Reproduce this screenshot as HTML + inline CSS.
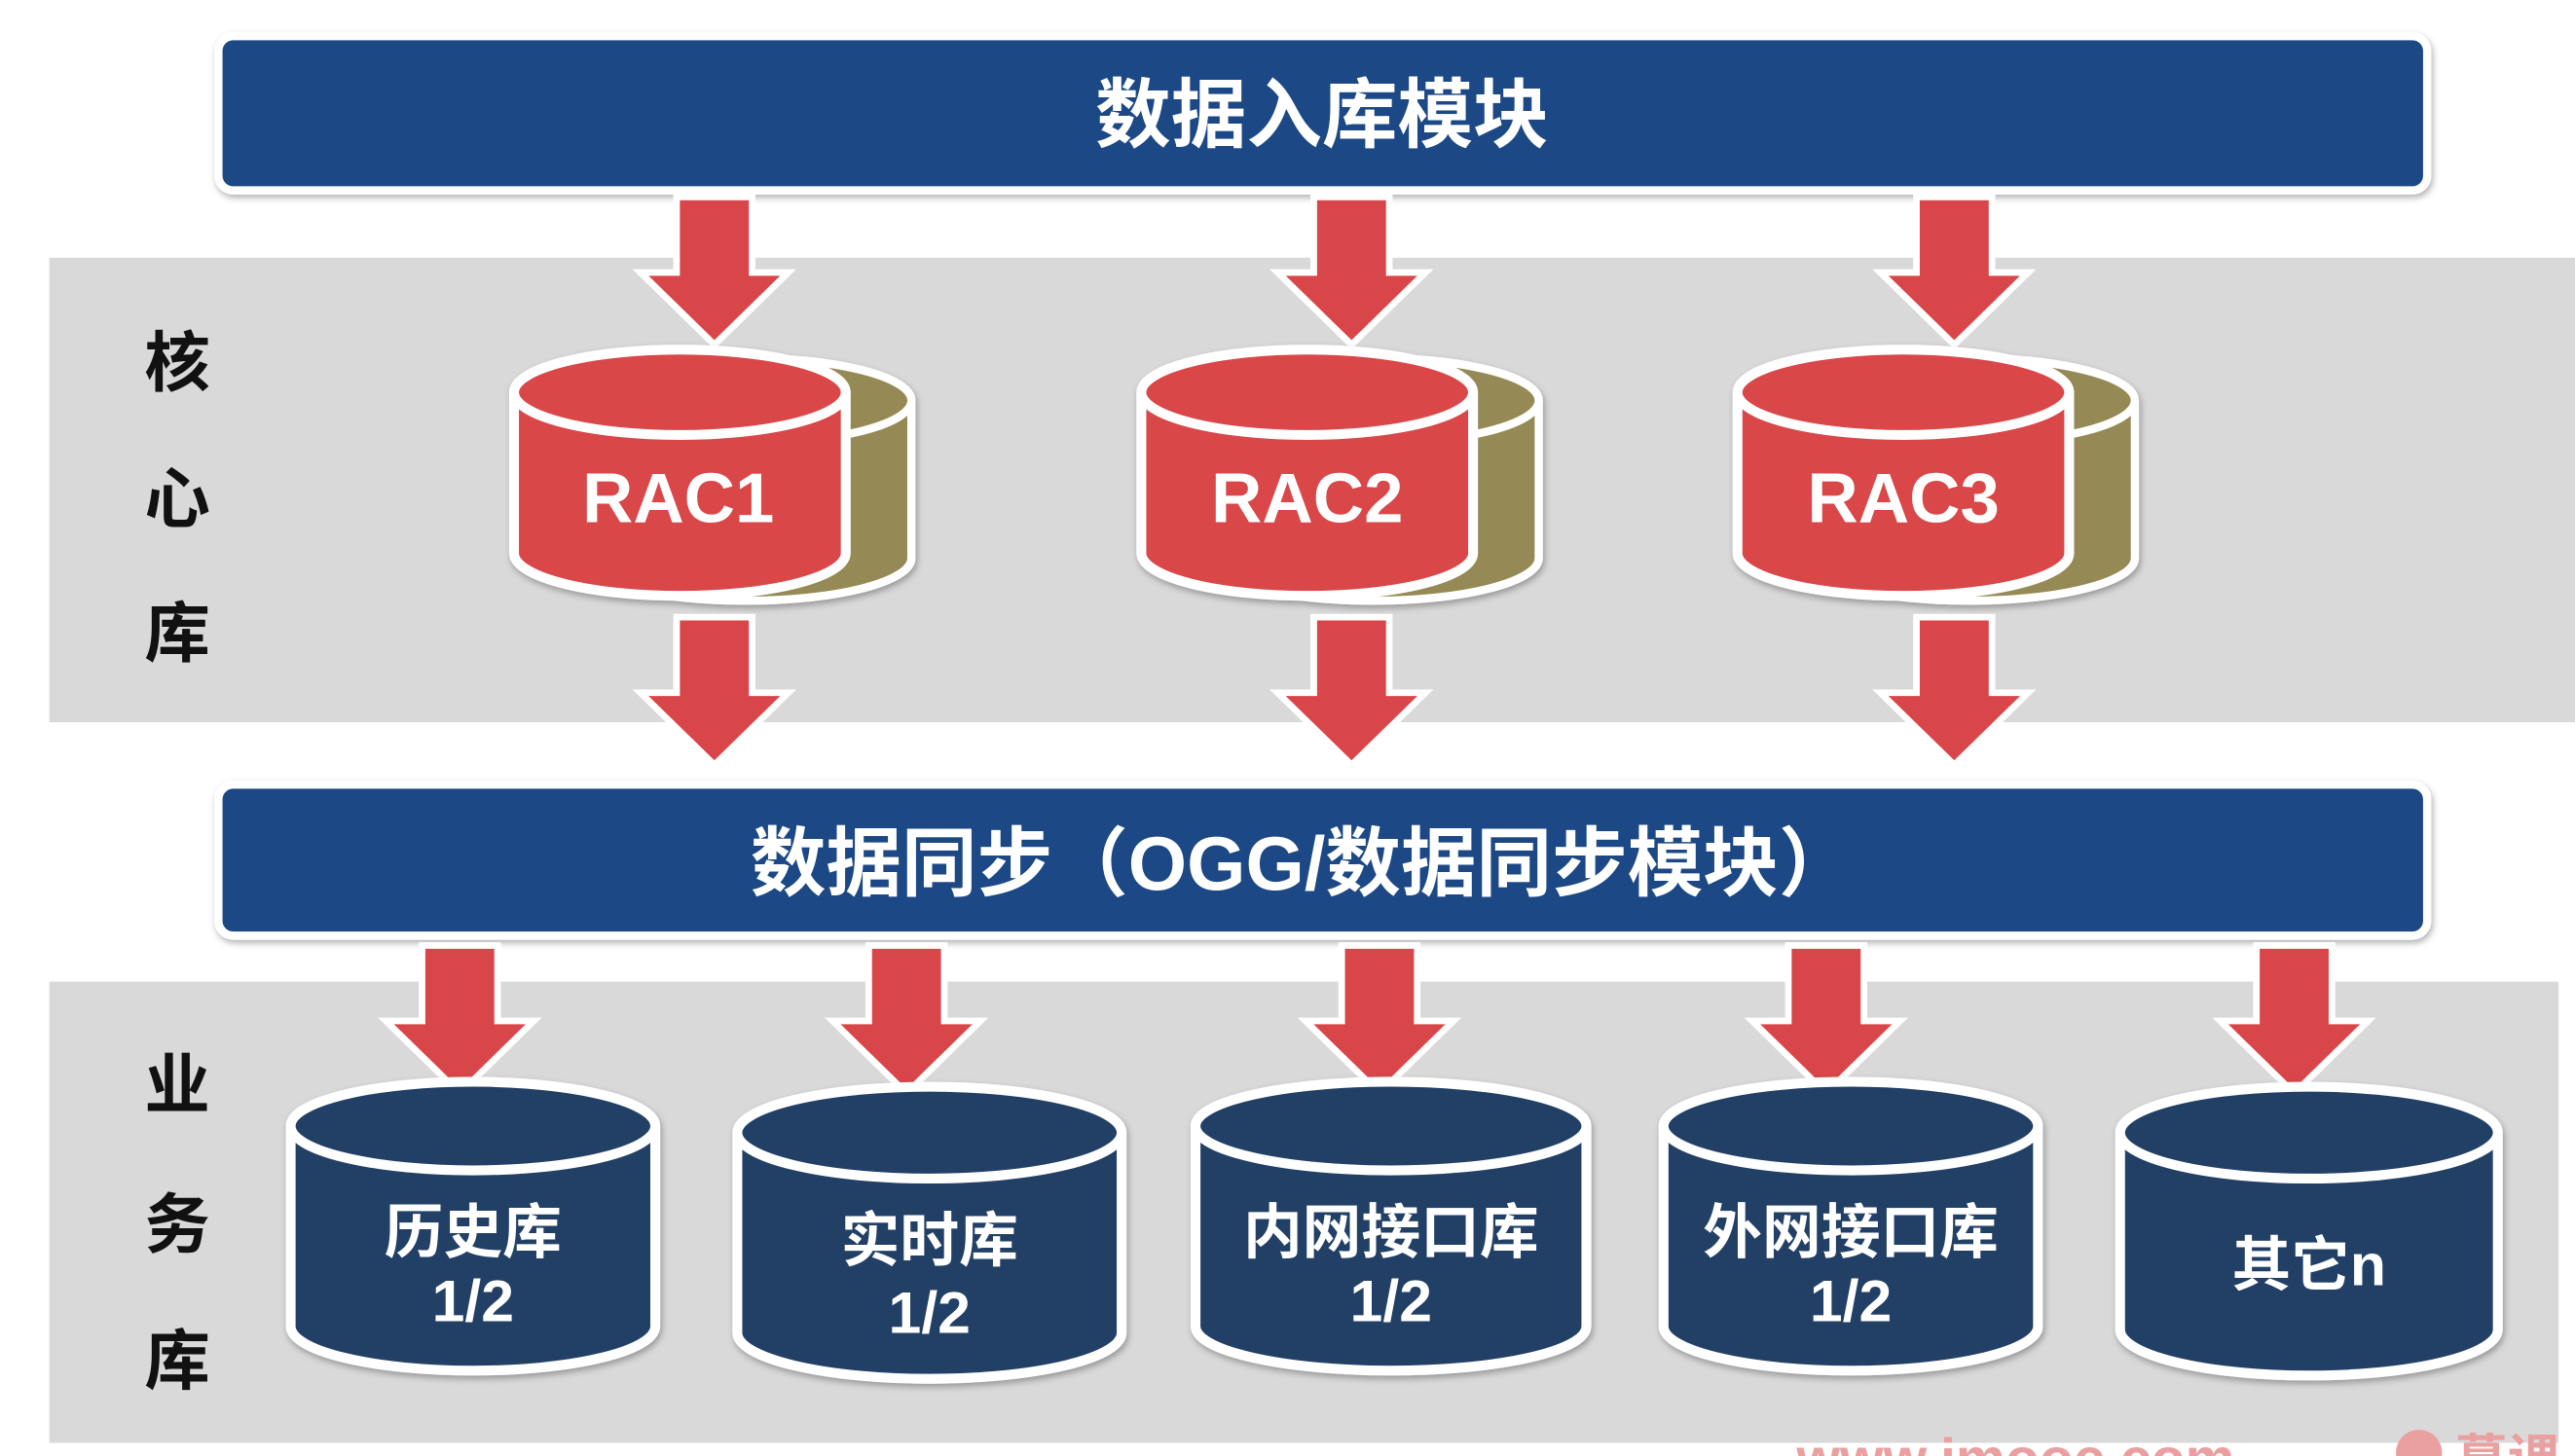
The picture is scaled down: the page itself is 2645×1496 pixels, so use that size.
<!DOCTYPE html>
<html><head><meta charset="utf-8"><style>
html,body{margin:0;padding:0;background:#fff;}
svg{display:block;}
text{font-family:"Liberation Sans","Noto Sans CJK SC",sans-serif;font-weight:bold;}
</style></head><body>
<svg width="2645" height="1496" viewBox="0 0 1568 887" preserveAspectRatio="none" xmlns="http://www.w3.org/2000/svg" xmlns:xlink="http://www.w3.org/1999/xlink">
<defs>
<filter id="sh" x="-10%" y="-10%" width="120%" height="130%"><feDropShadow dx="1" dy="2" stdDeviation="2" flood-color="#000" flood-opacity="0.3"/></filter>
<g id="arr"><path d="M-23,0 L23,0 L23,46 L45,46 L0,90 L-45,46 L-23,46 Z" fill="#d9464a" stroke="#fff" stroke-width="4" stroke-linejoin="miter"/></g>
</defs>
<rect width="1568" height="887" fill="#fff"/>
<rect x="30" y="157" width="1538" height="283" fill="#d9d9d9"/>
<rect x="30" y="598" width="1528" height="281" fill="#d9d9d9"/>

<rect x="133" y="22" width="1345" height="94" rx="9" fill="#1e4a85" stroke="#fff" stroke-width="5" filter="url(#sh)"/>
<text x="805" y="86" font-size="46" fill="#fff" text-anchor="middle">数据入库模块</text>

<rect x="133" y="478" width="1345" height="92" rx="9" fill="#1e4a85" stroke="#fff" stroke-width="5" filter="url(#sh)"/>
<text x="793" y="542" font-size="46" fill="#fff" text-anchor="middle">数据同步（OGG/数据同步模块）</text>

<g font-size="40" fill="#111" text-anchor="middle">
<text x="108" y="235">核</text><text x="108" y="318">心</text><text x="108" y="400">库</text>
<text x="108" y="675">业</text><text x="108" y="760">务</text><text x="108" y="843">库</text>
</g>

<use xlink:href="#arr" x="435" y="120"/><use xlink:href="#arr" x="823" y="120"/><use xlink:href="#arr" x="1190" y="120"/>

<g id="rac1">
<g filter="url(#sh)">
<path d="M353,244 L353,340 A101,26 0 0 0 555,340 L555,244" fill="#958a55" stroke="#fff" stroke-width="5"/>
<ellipse cx="454" cy="244" rx="101" ry="26" fill="#958a55" stroke="#fff" stroke-width="5"/>
<path d="M313,239 L313,337 A101,26 0 0 0 515,337 L515,239" fill="#d9464a" stroke="#fff" stroke-width="6"/>
<ellipse cx="414" cy="239" rx="101" ry="26" fill="#d9464a" stroke="#fff" stroke-width="6"/>
</g>
</g>
<use xlink:href="#rac1" x="382" y="0"/>
<use xlink:href="#rac1" x="745" y="0"/>
<g font-size="43" fill="#fff" text-anchor="middle">
<text x="413" y="318">RAC1</text><text x="796" y="318">RAC2</text><text x="1159" y="318">RAC3</text>
</g>

<use xlink:href="#arr" x="435" y="376"/><use xlink:href="#arr" x="823" y="376"/><use xlink:href="#arr" x="1190" y="376"/>

<use xlink:href="#arr" x="280" y="576"/><use xlink:href="#arr" x="552" y="576"/><use xlink:href="#arr" x="840" y="576"/><use xlink:href="#arr" x="1112" y="576"/><use xlink:href="#arr" x="1397" y="576"/>

<g fill="#243f66" stroke="#fff" stroke-width="6" filter="url(#sh)">
<path d="M177,686 L177,808 A111,27 0 0 0 399,808 L399,686"/><ellipse cx="288" cy="686" rx="111" ry="27"/>
<path d="M449,690 L449,812 A117,28 0 0 0 683,812 L683,690"/><ellipse cx="566" cy="690" rx="117" ry="28"/>
<path d="M728,686 L728,808 A119,27 0 0 0 966,808 L966,686"/><ellipse cx="847" cy="686" rx="119" ry="27"/>
<path d="M1013,686 L1013,808 A114,27 0 0 0 1241,808 L1241,686"/><ellipse cx="1127" cy="686" rx="114" ry="27"/>
<path d="M1291,690 L1291,810 A115,28 0 0 0 1521,810 L1521,690"/><ellipse cx="1406" cy="690" rx="115" ry="28"/>
</g>
<g font-size="36" fill="#fff" text-anchor="middle">
<text x="288" y="763">历史库</text><text x="288" y="805">1/2</text>
<text x="566" y="768">实时库</text><text x="566" y="812">1/2</text>
<text x="847" y="763">内网接口库</text><text x="847" y="805">1/2</text>
<text x="1127" y="763">外网接口库</text><text x="1127" y="805">1/2</text>
<text x="1406" y="783">其它n</text>
</g>

<text x="1094" y="900" font-size="34" fill="#eaa0a0" font-weight="normal">www.imooc.com</text>
<circle cx="1473" cy="885" r="14" fill="#eaa0a0"/>
<text x="1495" y="900" font-size="32" fill="#eaa0a0" font-weight="normal">慕课</text>
</svg>
</body></html>
